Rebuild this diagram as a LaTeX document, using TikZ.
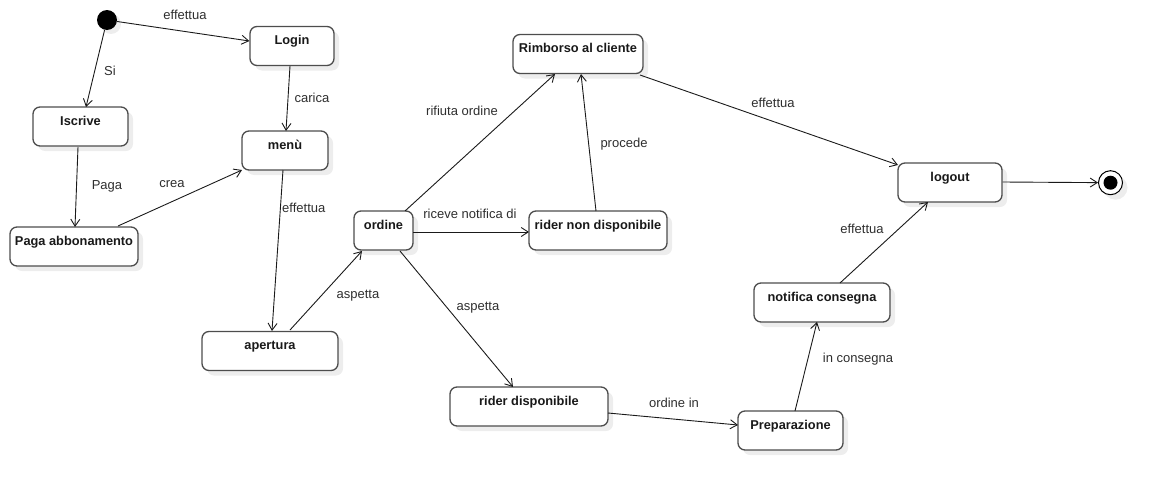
\documentclass[tikz,border=0pt]{standalone}
\usepackage{fontspec}
\setmainfont{Liberation Sans}
\usetikzlibrary{arrows.meta,shadows}
\definecolor{boxline}{HTML}{4D4D4D}
\definecolor{edgeline}{HTML}{1A1A1A}
\definecolor{labeltext}{HTML}{2E2E2E}
\begin{document}
\begin{tikzpicture}[x=1pt,y=-1pt,
  statebox/.style={draw=boxline,line width=1.3pt,fill=white,rounded corners=7pt,
    font=\fontsize{12.8}{15}\selectfont\bfseries,text=black!90,
    text height=9.5pt,text depth=12.5pt,inner ysep=8.5pt,inner xsep=0pt,
    drop shadow={shadow xshift=5pt,shadow yshift=-5pt,fill=black!7,opacity=1}},
  initstate/.style={circle,fill=black,minimum size=20pt,inner sep=0pt,
    drop shadow={shadow xshift=4pt,shadow yshift=-4pt,fill=black!7,opacity=1}},
  finalstate/.style={circle,draw=black,line width=1pt,fill=white,minimum size=24pt,inner sep=0pt,
    drop shadow={shadow xshift=5pt,shadow yshift=-5pt,fill=black!7,opacity=1}},
  trans/.style={draw=edgeline,line width=0.9pt,-{Straight Barb[length=7pt,width=9pt,line width=0.9pt]}},
  lbl/.style={font=\fontsize{13}{15}\selectfont,text=labeltext,inner sep=0pt}
]
\useasboundingbox (0,0) rectangle (1163,490);

% states
\node[initstate] (init) at (107,20) {};
\node[statebox,minimum width=84pt] (login) at (292,46) {Login};
\node[statebox,minimum width=95pt] (iscrive) at (80.5,126.5) {Iscrive};
\node[statebox,minimum width=86pt] (menu) at (285,150.5) {menù};
\node[statebox,minimum width=128pt] (paga) at (74,246.5) {Paga abbonamento};
\node[statebox,minimum width=136pt] (apertura) at (270,351) {apertura};
\node[statebox,minimum width=59pt] (ordine) at (383.5,230.5) {ordine};
\node[statebox,minimum width=130pt] (rimborso) at (578,54) {Rimborso al cliente};
\node[statebox,minimum width=138pt] (nondisp) at (598,230.5) {rider non disponibile};
\node[statebox,minimum width=158pt] (disp) at (529,406.5) {rider disponibile};
\node[statebox,minimum width=105pt] (prep) at (790.5,430.5) {Preparazione};
\node[statebox,minimum width=136pt] (notifica) at (822,302.5) {notifica consegna};
\node[statebox,minimum width=104pt] (logout) at (950,182.5) {logout};
\node[finalstate] (fine) at (1110.5,182.7) {};
\fill (fine.center) circle (7pt);

% transitions
\draw[trans] (init) -- (login.west |- 0,41);
\node[lbl] (l1) at (185,15) {effettua};
\draw[trans] (init) -- (86,107);
\node[lbl] (l2) at (110,71) {Si};
\draw[trans] (290,66) -- (286,131);
\node[lbl] (l3) at (312,98) {carica};
\draw[trans] (78,147) -- (75,227);
\node[lbl] (l4) at (107,186) {Paga};
\draw[trans] (118,226) -- (242,170);
\node[lbl] (l5) at (172,184) {crea};
\draw[trans] (283,170) -- (272,331);
\node[lbl,anchor=west] (l6) at (282,208) {effettua};
\draw[trans] (290,330) -- (362,251);
\node[lbl] (l7) at (358,296) {aspetta};
\draw[trans] (405,211) -- (555,74);
\node[lbl] (l8) at (462,111) {rifiuta ordine};
\draw[trans] (413,232) -- (529,232);
\node[lbl] (l9) at (470,214) {riceve notifica di};
\draw[trans] (596,211) -- (581,74);
\node[lbl] (l10) at (624,144) {procede};
\draw[trans] (400,251) -- (513,387);
\node[lbl] (l11) at (478,308) {aspetta};
\draw[trans] (608,413) -- (738,425);
\node[lbl] (l12) at (674,403) {ordine in};
\draw[trans] (795,411) -- (817,322);
\node[lbl] (l13) at (858,359) {in consegna};
\draw[trans] (840,283) -- (928,202);
\node[lbl] (l14) at (862,229) {effettua};
\draw[trans] (640,75) -- (898,165);
\node[lbl] (l15) at (773,103) {effettua};
\draw[trans] (logout.east |- 0,182) -- (fine);
\end{tikzpicture}
\end{document}
